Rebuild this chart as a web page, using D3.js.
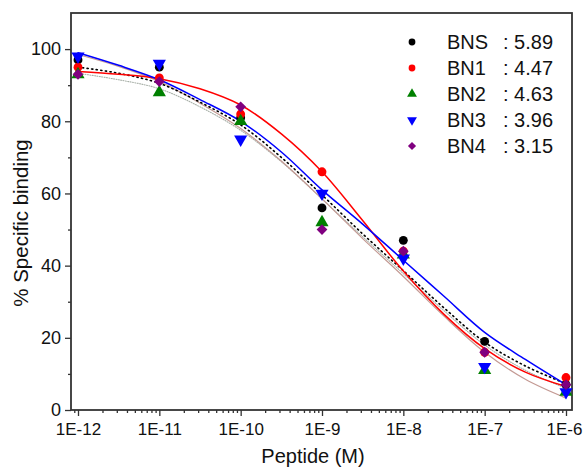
<!DOCTYPE html>
<html><head><meta charset="utf-8">
<script src="https://cdn.jsdelivr.net/npm/d3@7"></script>
<style>body{margin:0;background:#fff}svg{display:block;font-family:"Liberation Sans",Arial,sans-serif}</style>
</head><body><svg id="c" width="584" height="467"></svg>
<script>
// ---- data ----
const concentrations = [1e-12, 1e-11, 1e-10, 1e-9, 1e-8, 1e-7, 1e-6];
const seriesNames = ["BNS", "BN1", "BN2", "BN3", "BN4"];
const seriesLegendValues = ["5.89", "4.47", "4.63", "3.96", "3.15"];
const valuesBNS = [97, 95, 81, 56, 47, 19, 7];
const valuesBN1 = [95, 92, 82, 66, 44, 16, 9];
const valuesBN2 = [93, 88, 80, 52, 43, 11, 5];
const valuesBN3 = [98, 96, 75, 60, 42, 12, 5];
const valuesBN4 = [93, 91, 84, 50, 44, 16, 7];
// fitted curves at half-decade steps
const curveConcentrations = [1e-12, 3.162e-12, 1e-11, 3.162e-11, 1e-10, 3.162e-10, 1e-9, 3.162e-9, 1e-8, 3.162e-8, 1e-7, 3.162e-7, 1e-6];
const fitBNS = [95, 93.3, 90.5, 85.3, 79, 70, 59.6, 48.8, 38.6, 28.3, 18.8, 12.2, 7.3];
const fitBN1 = [93.8, 93, 91.8, 89, 84.5, 76.5, 66, 52.5, 38.5, 26.5, 17, 10.5, 6.5];
const fitBN2 = [93.3, 91.5, 89, 84, 77.5, 68.8, 58.5, 48, 37.8, 27.5, 18, 11, 6];
const fitBN3 = [99, 95.5, 91.5, 86, 80, 71.5, 61, 51.5, 41.5, 31.5, 21.5, 14, 7];
const fitBN4 = [98.5, 95.2, 91, 85, 78, 69, 58.5, 47.5, 37, 26, 16, 8.5, 3.3];
const xTickLabels = ["1E-12", "1E-11", "1E-10", "1E-9", "1E-8", "1E-7", "1E-6"];
const yTicks = [0, 20, 40, 60, 80, 100];
const yMinorTicks = [10, 30, 50, 70, 90];

// ---- styles ----
const pointColors = ["#000000", "#ff0000", "#008000", "#0000ff", "#800080"];
const pointShapes = ["circle", "circle", "up", "down", "diamond"];
const fitStyles = [
  {c:"#000000", w:1.6, dash:"1.2,3.4"},
  {c:"#ff0000", w:1.5, dash:null},
  {c:"#a8b0a8", w:1.1, dash:"1,1.4"},
  {c:"#0000ff", w:1.5, dash:null},
  {c:"#c49a94", w:1.2, dash:null}
];

const svg = d3.select("#c");
const L = 71, R = 572, T = 13, B = 410;
const x = d3.scaleLog().domain([1e-12, 1e-6]).range([78, 566]);
const y = d3.scaleLinear().domain([0, 110]).range([B, T]);

const fits = [fitBNS, fitBN1, fitBN2, fitBN3, fitBN4];
const vals = [valuesBNS, valuesBN1, valuesBN2, valuesBN3, valuesBN4];
const FONT = '"Liberation Sans",Arial,sans-serif';

// axes
const major = concentrations;
const minor = [];
for (let e = -13; e <= -6; e++) for (let k = 2; k <= 9; k++) {
  const v = k * Math.pow(10, e);
  const px = x(v);
  if (px > L + 1 && px < R - 1) minor.push(v);
}
const axCol = "#333";
const gx = svg.append("g").attr("transform", `translate(0,${B})`)
  .call(d3.axisBottom(x).tickValues(major).tickFormat((d,i)=>xTickLabels[i]).tickSize(6).tickPadding(7));
gx.select(".domain").remove();
gx.selectAll("text").attr("font-size", 17).attr("fill", "#111").attr("font-family", FONT);
gx.selectAll("text").filter((d,i)=>i===major.length-1).attr("dx", -2);
gx.selectAll("line").attr("stroke", axCol).attr("stroke-width", 1.3);
const gxm = svg.append("g").attr("transform", `translate(0,${B})`)
  .call(d3.axisBottom(x).tickValues(minor).tickFormat("").tickSize(3));
gxm.select(".domain").remove();
gxm.selectAll("line").attr("stroke", axCol).attr("stroke-width", 1.3);

const gy = svg.append("g").attr("transform", `translate(${L},0)`)
  .call(d3.axisLeft(y).tickValues(yTicks).tickSize(6).tickPadding(4));
gy.select(".domain").remove();
gy.selectAll("text").attr("font-size", 18).attr("fill", "#111").attr("font-family", FONT);
gy.selectAll("line").attr("stroke", axCol).attr("stroke-width", 1.3);
const gym = svg.append("g").attr("transform", `translate(${L},0)`)
  .call(d3.axisLeft(y).tickValues(yMinorTicks).tickFormat("").tickSize(3));
gym.select(".domain").remove();
gym.selectAll("line").attr("stroke", axCol).attr("stroke-width", 1.3);

// frame
svg.append("rect").attr("x", L).attr("y", T).attr("width", R - L).attr("height", B - T)
  .attr("fill", "none").attr("stroke", axCol).attr("stroke-width", 1.8);

// titles
svg.append("text").attr("x", 313).attr("y", 463).attr("text-anchor", "middle")
  .attr("font-size", 20).attr("fill", "#111").text("Peptide (M)");
svg.append("text").attr("transform", "translate(28,223) rotate(-90)").attr("text-anchor", "middle")
  .attr("font-size", 20.5).attr("fill", "#111").text("% Specific binding");

// fitted curves
const line = d3.line().x((d,i)=>x(curveConcentrations[i])).y(d=>y(d)).curve(d3.curveCatmullRom);
[2, 4, 0, 1, 3].forEach(s => {
  const st = fitStyles[s];
  svg.append("path").attr("d", line(fits[s])).attr("fill", "none")
    .attr("stroke", st.c).attr("stroke-width", st.w)
    .attr("stroke-dasharray", st.dash).attr("stroke-linecap", "round");
});

// markers
function marker(g, s, size) {
  const sh = pointShapes[s];
  if (sh === "down") return g.append("path").attr("d", d3.symbol(d3.symbolTriangle, size)()).attr("transform", "rotate(180)");
  if (sh === "up") return g.append("path").attr("d", d3.symbol(d3.symbolTriangle, size)());
  if (sh === "diamond") return g.append("path").attr("d", d3.symbol(d3.symbolSquare, size)()).attr("transform", "rotate(45)");
  return g.append("path").attr("d", d3.symbol(d3.symbolCircle, size)());
}
const markerSizes = [62, 62, 75, 75, 58];
vals.forEach((arr, s) => {
  arr.forEach((v, i) => {
    const g = svg.append("g").attr("transform", `translate(${x(concentrations[i])},${y(v)})`).attr("fill", pointColors[s]);
    marker(g, s, markerSizes[s]);
  });
});

// legend
const legendY0 = 42, legendDy = 26;
seriesNames.forEach((n, s) => {
  const yy = legendY0 + s * legendDy;
  const g = svg.append("g").attr("transform", `translate(412,${yy})`).attr("fill", pointColors[s]);
  marker(g, s, [36, 36, 42, 42, 34][s]);
  svg.append("text").attr("x", 447).attr("y", yy + 7).attr("font-size", 20).attr("fill", "#111").text(n);
  svg.append("text").attr("x", 503).attr("y", yy + 7).attr("font-size", 20).attr("fill", "#111").text(": " + seriesLegendValues[s]);
});
</script></body></html>
